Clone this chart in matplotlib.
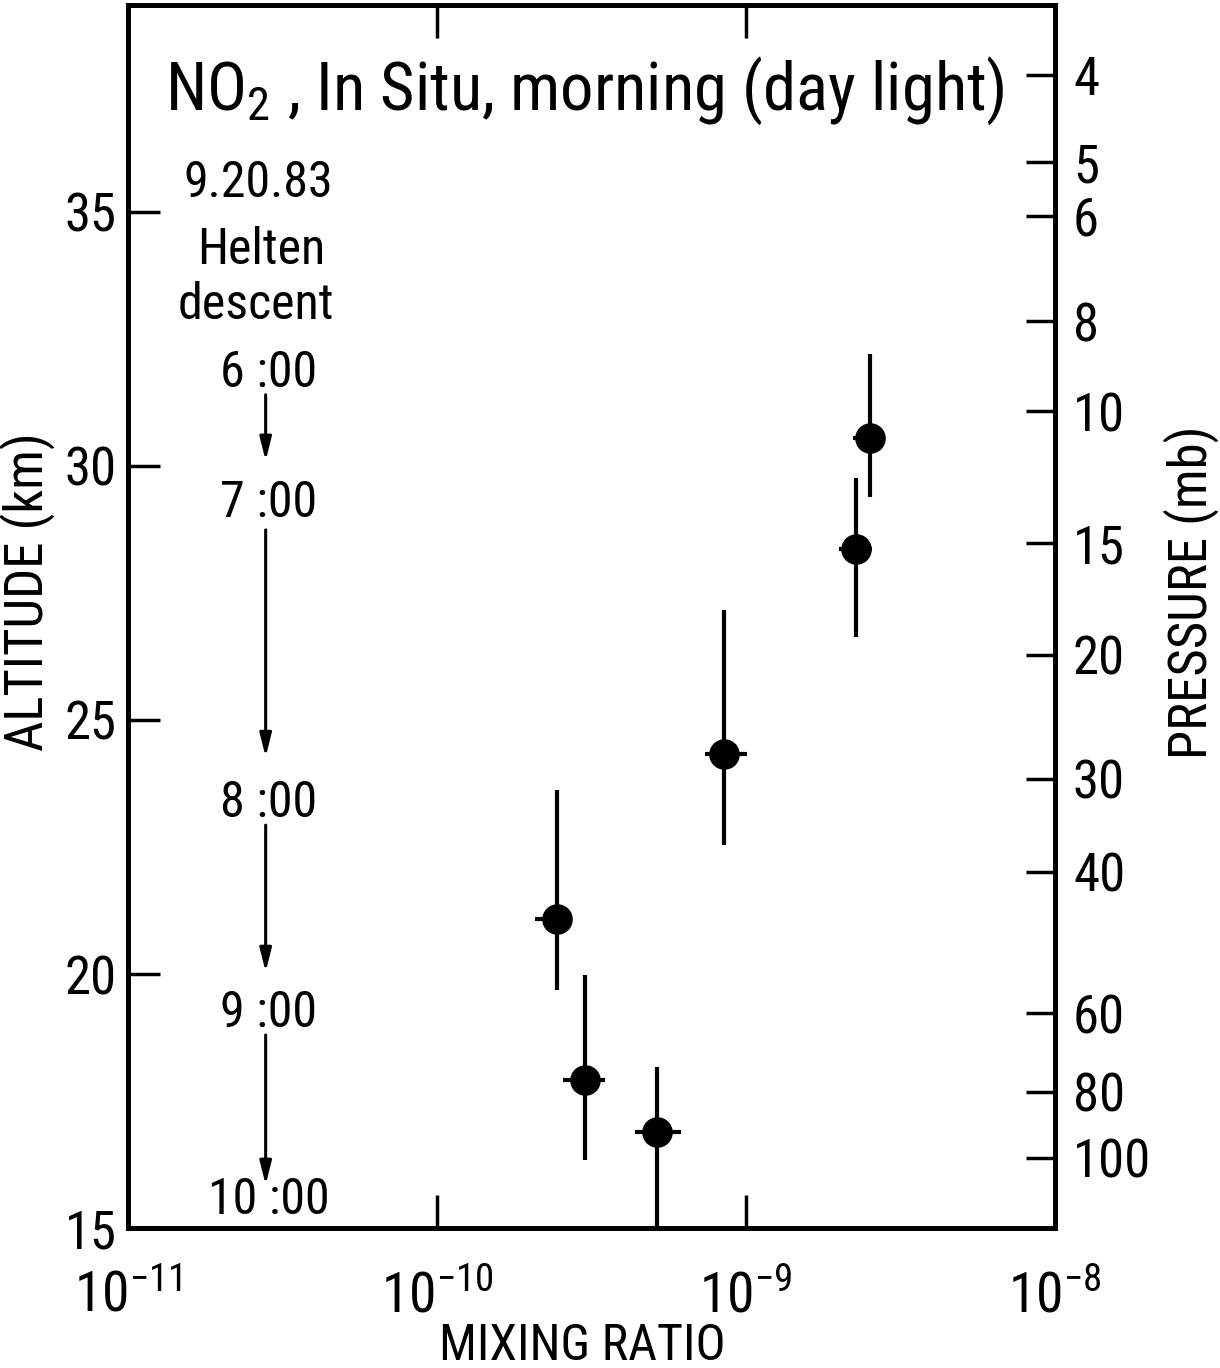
import numpy as np
import matplotlib
matplotlib.use("Agg")
import matplotlib.pyplot as plt
from matplotlib import font_manager

# pick a narrow face if one is around
fonts = font_manager.fontManager.ttflist
names = {f.name for f in fonts}
fam, stretch = "DejaVu Sans", "normal"
for cand in ["Liberation Sans Narrow", "Roboto Condensed", "Noto Sans Condensed",
             "Open Sans Condensed", "Arimo Narrow"]:
    if cand in names:
        fam = cand
        break
else:
    cond = [f for f in fonts if f.stretch in ("condensed", "semi-condensed", 300, 400)
            or "Condensed" in f.fname]
    if cond:
        fam, stretch = cond[0].name, "condensed"
matplotlib.rcParams["font.family"] = [fam, "DejaVu Sans"]
matplotlib.rcParams["font.stretch"] = stretch
matplotlib.rcParams["mathtext.fontset"] = "custom"
pat = fam + (":stretch=condensed" if stretch == "condensed" else "")
matplotlib.rcParams["mathtext.rm"] = pat
matplotlib.rcParams["mathtext.it"] = pat
matplotlib.rcParams["mathtext.bf"] = pat
narrow = fam != "DejaVu Sans" or stretch == "condensed"
fs = 38 if narrow else 32

# NO2 mixing ratio profile
mix = [2.44e-10, 3.01e-10, 5.16e-10, 8.52e-10, 2.27e-9, 2.52e-9]
mix_lo = [2.07e-10, 2.55e-10, 4.38e-10, 7.39e-10, 2.00e-9, 2.22e-9]
mix_hi = [2.44e-10, 3.50e-10, 6.18e-10, 1.01e-9, 2.56e-9, 2.52e-9]
alt = [21.08, 17.91, 16.89, 24.33, 28.37, 30.55]
alt_lo = [19.69, 16.34, 14.5, 22.54, 26.63, 29.39]
alt_hi = [23.62, 19.98, 18.17, 27.17, 29.76, 32.20]

# pressure scale on the right
p_labels = ["4", "5", "6", "8", "10", "15", "20", "30", "40", "60", "80", "100"]
p_alt = [37.70, 35.98, 34.92, 32.85, 31.08, 28.48, 26.28, 23.84, 22.01, 19.23, 17.68, 16.38]

# descent times
times = ["6 :00", "7 :00", "8 :00", "9 :00", "10 :00"]
time_alt = [31.83, 29.27, 23.37, 19.23, 15.55]
arrow_top = [31.4, 28.74, 22.93, 18.8]
arrow_bot = [30.1, 24.27, 20.04, 15.85]
time_x = 2.85e-11
arrow_x = 2.79e-11

fig = plt.figure(figsize=(12.2, 13.68), dpi=100)
ax = fig.add_axes([0.1049, 0.1023, 0.7598, 0.8940])

x = np.array(mix)
y = np.array(alt)
xerr = [x - np.array(mix_lo), np.array(mix_hi) - x]
yerr = [y - np.array(alt_lo), np.array(alt_hi) - y]
ax.errorbar(x, y, xerr=xerr, yerr=yerr, fmt="o", color="black", ms=21,
            elinewidth=3, capsize=0, zorder=3)

ax.set_xscale("log")
ax.set_xlim(1e-11, 1e-8)
ax.set_ylim(15, 39.07)
ax.set_xticks([1e-11, 1e-10, 1e-9, 1e-8])
ax.set_xticklabels(["10$^{-11}$", "10$^{-10}$", "10$^{-9}$", "10$^{-8}$"])
ax.xaxis.set_minor_locator(matplotlib.ticker.NullLocator())
ax.set_yticks([15, 20, 25, 30, 35])
ax.tick_params(axis="x", direction="in", length=24, width=2.5, labelsize=fs + 2,
               pad=30, top=True)
ax.tick_params(axis="y", direction="in", length=23, width=2.5, labelsize=fs,
               pad=8)
for s in ax.spines.values():
    s.set_linewidth(3.5)

ax2 = ax.twinx()
ax2.set_ylim(15, 39.07)
ax2.set_yticks(p_alt)
ax2.set_yticklabels(p_labels)
ax2.tick_params(axis="y", direction="in", length=21, width=2.5, labelsize=fs,
                pad=13)
for s in ax2.spines.values():
    s.set_linewidth(3.5)

ax.set_xlabel("MIXING RATIO", fontsize=fs - 2)
ax.xaxis.set_label_coords(0.49, -0.077)
ax.set_ylabel("ALTITUDE (km)", fontsize=fs)
ax.yaxis.set_label_coords(-0.079, 0.52)
ax2.set_ylabel("PRESSURE (mb)", fontsize=fs, rotation=90)
ax2.yaxis.set_label_coords(1.117, 0.52)

ax.text(0.04, 0.930, "NO$_2$ , In Situ, morning (day light)", transform=ax.transAxes,
        fontsize=fs + 10, ha="left", va="center")
ax.text(2.65e-11, 35.57, "9.20.83", fontsize=fs - 2, ha="center", va="center")
ax.text(2.70e-11, 34.25, "Helten", fontsize=fs - 2, ha="center", va="center")
ax.text(2.60e-11, 33.17, "descent", fontsize=fs - 2, ha="center", va="center")

for t, ta in zip(times, time_alt):
    ax.text(time_x, ta, t, fontsize=fs - 2, ha="center", va="center")
for a0, a1 in zip(arrow_top, arrow_bot):
    ax.annotate("", xy=(arrow_x, a1), xytext=(arrow_x, a0),
                arrowprops=dict(arrowstyle="-|>,head_length=1.4,head_width=0.35",
                                color="black", lw=2.2, shrinkA=0, shrinkB=0))

plt.savefig("out.png", dpi=100)
